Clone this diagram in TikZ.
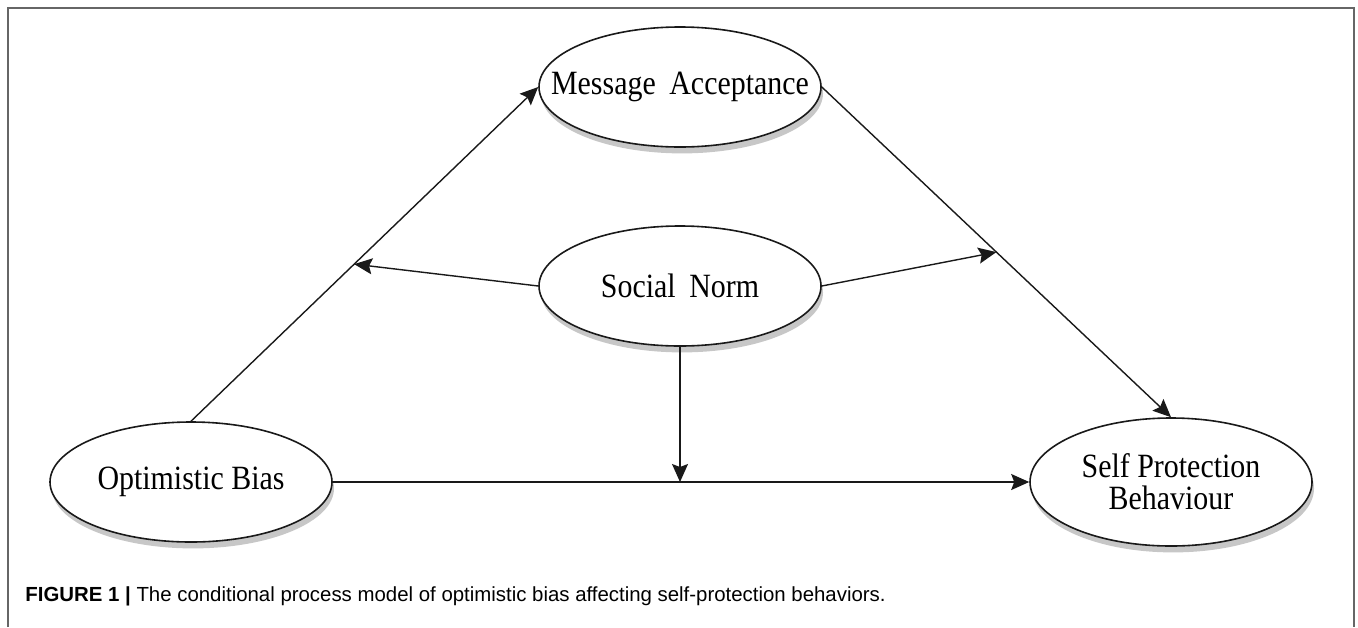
\documentclass[tikz,border=0pt]{standalone}
\usepackage{fontspec}
\setmainfont{Liberation Serif}
\newfontfamily\varfont[FakeStretch=0.88]{Liberation Serif}
\newfontfamily\capfont{Liberation Sans}
\usetikzlibrary{arrows.meta,shapes.geometric,shadows,calc}

\begin{document}
\begin{tikzpicture}[x=0.5pt,y=-0.5pt,
        var/.style={ellipse, draw=black!90, line width=0.8pt, fill=white,
            minimum width=141pt, minimum height=60pt, inner sep=0pt,
            general shadow={fill=black!22, shadow xshift=1pt, shadow yshift=-3.2pt}},
        varlabel/.style={align=center, inner sep=0pt, font=\varfont\fontsize{17}{16}\selectfont},
        arr/.style={-{Stealth[length=9pt,width=8pt,inset=1.5pt]}, line width=0.7pt, black!90},
        frame/.style={line width=1pt, black!60}]
                    \useasboundingbox (0, 0) rectangle (1358, 627);
                    \draw[frame] (8, 627) -- (8, 8) -- (1354, 8) -- (1354, 627);
                    % the four variables
                    \node[var, label={[varlabel]center:Message\hspace{0.4em}Acceptance}] (ma) at (680, 87){};
                    \node[var, label={[varlabel]center:Social\hspace{0.4em}Norm}] (sn) at (680, 286){};
                    \node[var, label={[varlabel]center:Optimistic Bias}] (ob) at (191, 482){};
                    \node[var, minimum height=64pt, label={[varlabel]center:Self Protection\\Behaviour}] (sp) at (1171, 482){};
                    % paths
                    \draw[arr] (ob.north) -- (ma.west);
                    \draw[arr] (ma.east) -- (sp.north);
                    \draw[arr] (ob) -- (sp);
                    % moderation by social norm
                    \coordinate (m1) at ($(ob.north)!0.47!(ma.west)$);
                    \coordinate (m2) at ($(ma.east)!0.5!(sp.north)$);
                    \coordinate (m3) at (sn.south |- ob.east);
                    \draw[arr] (sn.west) -- (m1);
                    \draw[arr] (sn.east) -- (m2);
                    \draw[arr] (sn.south) -- (m3);
                    % caption
                    \node[anchor=west, inner sep=0pt, font=\capfont\fontsize{10.2}{11}\selectfont] (cap) at (25, 596)
                        {\textbf{FIGURE 1 |} The conditional process model of optimistic bias affecting self-protection behaviors.};
\end{tikzpicture}
\end{document}
